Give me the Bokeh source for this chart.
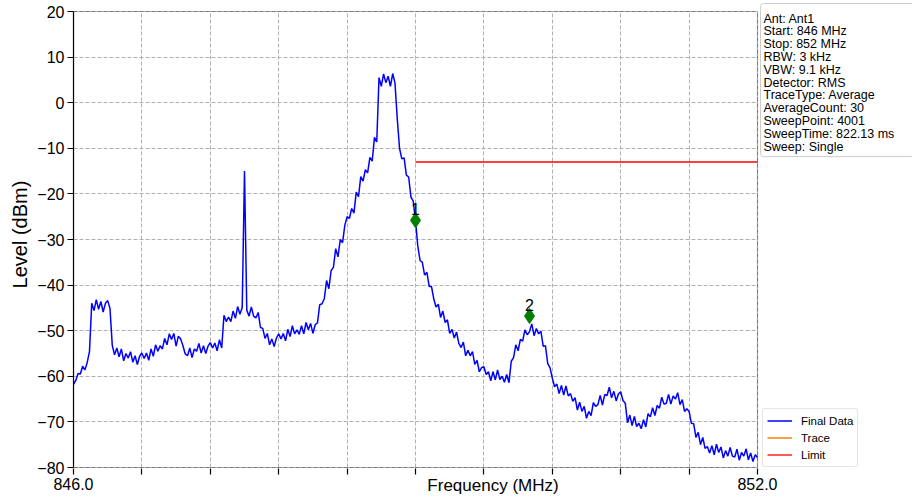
from bokeh.plotting import figure
from bokeh.models import (FixedTicker, PrintfTickFormatter, Legend, LegendItem,
                          Label, Range1d, ColumnDataSource, BoxAnnotation, Grid)
from bokeh.core.properties import value
from bokeh.embed import file_html
from bokeh.resources import INLINE

# ---------------- data ----------------
start_mhz = 846.0
stop_mhz = 852.0
step_mhz = 0.02
y_min, y_max = -80, 20

level_dbm = [
    -61.8, -60.9, -59.4, -59.5, -57.8, -58.6, -57.0, -54.6, -44.0, -45.6,
    -43.2, -45.3, -43.6, -45.9, -44.0, -43.4, -45.1, -53.2, -55.3, -53.8,
    -55.7, -54.0, -56.6, -55.0, -56.0, -54.6, -56.9, -55.5, -57.4, -55.6,
    -54.9, -56.1, -54.9, -56.5, -54.0, -55.6, -53.1, -54.5, -53.3, -54.0,
    -51.7, -53.1, -50.7, -51.9, -50.6, -53.4, -51.2, -51.8, -53.3, -55.1,
    -55.5, -53.8, -55.9, -54.0, -54.5, -52.8, -54.9, -53.3, -55.0, -53.4,
    -52.6, -53.8, -52.7, -54.4, -52.0, -53.8, -46.6, -48.0, -47.0, -48.0,
    -45.7, -47.3, -44.7, -46.4, -44.9, -15.0, -45.5, -46.8, -44.8, -46.8,
    -47.2, -46.0, -49.3, -49.5, -51.7, -50.6, -53.1, -51.8, -53.5, -51.6,
    -50.7, -51.8, -50.6, -52.2, -49.7, -51.3, -48.9, -50.7, -49.8, -50.8,
    -48.9, -50.7, -48.2, -49.8, -48.4, -50.6, -48.7, -48.3, -44.3, -44.1,
    -43.0, -39.0, -40.8, -36.8, -36.1, -32.0, -33.8, -30.0, -30.7, -26.9,
    -25.0, -25.4, -23.2, -24.2, -19.6, -20.6, -16.2, -17.2, -14.7, -15.4,
    -12.0, -12.8, -7.6, -8.6, 5.5, 3.6, 6.3, 4.4, 5.8, 3.6,
    6.4, 4.3, -3.5, -10.0, -12.3, -12.1, -15.9, -16.3, -20.7, -21.6,
    -25.8, -31.4, -34.6, -35.0, -37.8, -37.2, -40.3, -40.3, -43.0, -44.8,
    -44.2, -47.1, -45.7, -48.2, -47.6, -50.6, -49.7, -51.6, -50.3, -52.8,
    -53.7, -52.5, -55.5, -54.3, -55.5, -54.6, -57.4, -56.5, -59.0, -58.1,
    -57.9, -59.6, -59.0, -61.0, -59.0, -60.8, -58.6, -60.7, -60.0, -61.3,
    -59.6, -61.4, -56.7, -55.9, -53.1, -54.4, -51.9, -52.3, -49.8, -50.9,
    -50.2, -48.5, -51.1, -49.5, -50.7, -50.1, -53.4, -53.3, -57.2, -58.1,
    -60.4, -62.3, -61.7, -63.8, -62.0, -64.1, -62.1, -64.3, -63.8, -65.5,
    -64.7, -67.4, -65.7, -67.7, -66.6, -69.2, -67.7, -68.6, -65.8, -66.6,
    -66.2, -64.2, -66.3, -64.0, -64.2, -62.4, -64.7, -63.3, -65.4, -63.9,
    -63.4, -65.3, -65.9, -70.2, -68.5, -70.8, -68.8, -71.0, -70.3, -71.5,
    -69.5, -71.1, -68.2, -68.9, -66.9, -68.6, -66.4, -67.0, -64.6, -66.1,
    -65.9, -64.0, -66.1, -64.3, -65.0, -63.6, -66.2, -65.1, -67.7, -67.1,
    -67.7, -70.3, -70.4, -73.4, -72.3, -75.0, -73.4, -75.8, -75.4, -76.8,
    -75.2, -77.2, -74.9, -76.7, -75.5, -77.9, -76.3, -77.5, -75.6, -77.5,
    -77.7, -76.0, -78.4, -76.7, -77.5, -75.9, -78.3, -76.8, -78.7, -77.2,
    -77.8,
]
freq_mhz = [round(start_mhz + step_mhz * i, 3) for i in range(len(level_dbm))]

# "Trace" series: present in the legend, no visible samples in the plot
trace_freq = [start_mhz]
trace_level = [float("nan")]

marker_freq = [849.0, 850.0]
marker_level = [-25.8, -46.8]
marker_names = ["1", "2"]

limit_freq = [849.0, 852.0]
limit_level = [-13.0, -13.0]

y_ticks = [-80, -70, -60, -50, -40, -30, -20, -10, 0, 10, 20]
x_major = [846.0, 852.0]
x_minor = [846.6, 847.2, 847.8, 848.4, 849.0, 849.6, 850.2, 850.8, 851.4]

info_lines = [
    "Ant: Ant1",
    "Start: 846 MHz",
    "Stop: 852 MHz",
    "RBW: 3 kHz",
    "VBW: 9.1 kHz",
    "Detector: RMS",
    "TraceType: Average",
    "AverageCount: 30",
    "SweepPoint: 4001",
    "SweepTime: 822.13 ms",
    "Sweep: Single",
]

# ---------------- layout (pixels) ----------------
FONT = "Liberation Sans"
W, H = 912, 502
BL, BR, BT, BB = 73, 0, 0, 34
FW, FH = W - BL - BR, H - BT - BB          # frame 73..912 x 0..468
PX_X0, PX_X1 = 73, 757                      # where 846 / 852 land
PX_YTOP, PX_YBOT = 11, 467                  # where 20 / -80 land
ppx = (PX_X1 - PX_X0) / (stop_mhz - start_mhz)
ppy = (PX_YBOT - PX_YTOP) / (y_max - y_min)
x_end = start_mhz + (FW - (PX_X0 - BL)) / ppx
y_start = y_min - (H - BB - PX_YBOT) / ppy
y_end = y_max + (PX_YTOP - BT) / ppy

p = figure(width=W, height=H, output_backend="svg", toolbar_location=None,
           x_range=Range1d(start_mhz, x_end), y_range=Range1d(y_start, y_end),
           min_border_left=BL, min_border_right=BR, min_border_top=BT,
           min_border_bottom=BB, background_fill_color="white",
           border_fill_color="white")
p.outline_line_color = None

# axes
p.xaxis.ticker = FixedTicker(ticks=x_major, minor_ticks=x_minor)
p.xaxis.formatter = PrintfTickFormatter(format="%.1f")
p.xaxis.bounds = (start_mhz, stop_mhz)
p.yaxis.ticker = FixedTicker(ticks=y_ticks)
p.yaxis.bounds = (y_min, y_max)
p.yaxis.major_label_overrides = {t: (("\u2212" + str(abs(t))) if t < 0 else str(t)) for t in y_ticks}
for ax in (p.xaxis[0], p.yaxis[0]):
    ax.axis_line_color = "black"
    ax.axis_line_width = 1.2
    ax.major_tick_line_color = "black"
    ax.major_tick_line_width = 1.2
    ax.major_tick_out = 6
    ax.major_tick_in = 0
    ax.minor_tick_line_color = "black"
    ax.minor_tick_line_width = 1.2
    ax.minor_tick_out = 6
    ax.minor_tick_in = 0
    ax.major_label_text_font = FONT
    ax.major_label_text_font_size = "16px"
    ax.major_label_text_color = "black"
    ax.major_label_standoff = 3
    ax.axis_label_text_font = FONT
    ax.axis_label_text_font_style = "normal"
    ax.axis_label_text_color = "black"
p.xaxis.axis_line_color = None
p.yaxis.minor_tick_line_color = None
p.yaxis.axis_label = "Level (dBm)"
p.yaxis.axis_label_text_font_size = "20px"
p.yaxis.axis_label_standoff = 3
p.xaxis.axis_label = "Frequency (MHz)"
p.xaxis.axis_label_text_font_size = "17px"
p.xaxis.axis_label_standoff = -17

# grid, limited to the 846..852 x -80..20 box
has_cross = "cross_bounds" in Grid.properties()
if has_cross:
    for g in (p.xgrid[0], p.ygrid[0]):
        g.grid_line_color = "#b0b0b0"
        g.grid_line_dash = "4 2"
        g.grid_line_width = 1
    p.xgrid.minor_grid_line_color = "#b0b0b0"
    p.xgrid.minor_grid_line_dash = "4 2"
    p.xgrid.minor_grid_line_width = 1
    p.xgrid.cross_bounds = (y_min, y_max)
    p.ygrid.cross_bounds = (start_mhz, stop_mhz)
    p.ygrid.bounds = (y_min, y_max)
    p.xgrid.bounds = (start_mhz, stop_mhz)
else:
    p.xgrid.grid_line_color = None
    p.ygrid.grid_line_color = None
    p.segment(x0=x_minor, x1=x_minor, y0=[y_min] * len(x_minor), y1=[y_max] * len(x_minor),
              line_color="#b0b0b0", line_dash="4 2", line_width=1)
    p.segment(x0=[start_mhz] * len(y_ticks), x1=[stop_mhz] * len(y_ticks), y0=y_ticks, y1=y_ticks,
              line_color="#b0b0b0", line_dash="4 2", line_width=1)

# plot box (spines)
p.add_layout(BoxAnnotation(left=start_mhz, right=stop_mhz, bottom=y_min, top=y_max,
                           fill_alpha=0, line_color="black", line_width=1.2))

# data renderers
r_data = p.line(freq_mhz, level_dbm, line_color="#0000ff", line_width=1.5)
r_trace = p.line(trace_freq, trace_level, line_color="#ff7f0e", line_width=1.5)
r_limit = p.line(limit_freq, limit_level, line_color="#ff0000", line_width=1.3)

msrc = ColumnDataSource(dict(x=marker_freq, y=marker_level, t=marker_names))
p.scatter("x", "y", source=msrc, marker="diamond", size=15,
          fill_color="#008000", line_color="#008000")
p.text("x", "y", text="t", source=msrc, y_offset=-11, text_align="center",
       text_baseline="alphabetic", text_font=value(FONT),
       text_font_size="16px", text_color="black")

# legend (inside the frame, to the right of the plot box)
legend = Legend(items=[LegendItem(label="Final Data", renderers=[r_data]),
                       LegendItem(label="Trace", renderers=[r_trace]),
                       LegendItem(label="Limit", renderers=[r_limit])],
                location=(762 - BL, (H - BB) - 467))
legend.label_text_font = FONT
legend.label_text_font_size = "11.5px"
legend.label_text_color = "black"
legend.glyph_width = 25
legend.glyph_height = 15
legend.label_height = 15
legend.spacing = 2
legend.padding = 4
legend.margin = 0
legend.label_standoff = 9
legend.border_line_color = "#cccccc"
legend.border_line_width = 1
legend.background_fill_color = "white"
legend.background_fill_alpha = 1
if "border_radius" in Legend.properties():
    legend.border_radius = 3
p.add_layout(legend, "center")

# info box
info = Label(x=760 - BL, y=(H - BB) - 3, x_units="screen", y_units="screen",
             text="\n".join(info_lines), text_font=FONT,
             text_font_size="12.5px", text_line_height=0.915,
             text_baseline="top", text_align="left", text_color="black",
             border_line_color="#cccccc", border_line_width=1,
             background_fill_color="white", background_fill_alpha=1,
             padding=4)
try:
    info.padding = dict(left=3, right=20, top=8, bottom=3)
except Exception:
    info.padding = 4
if "border_radius" in Label.properties():
    info.border_radius = 3
p.add_layout(info)

open("out.html", "w").write(file_html(p, INLINE))
